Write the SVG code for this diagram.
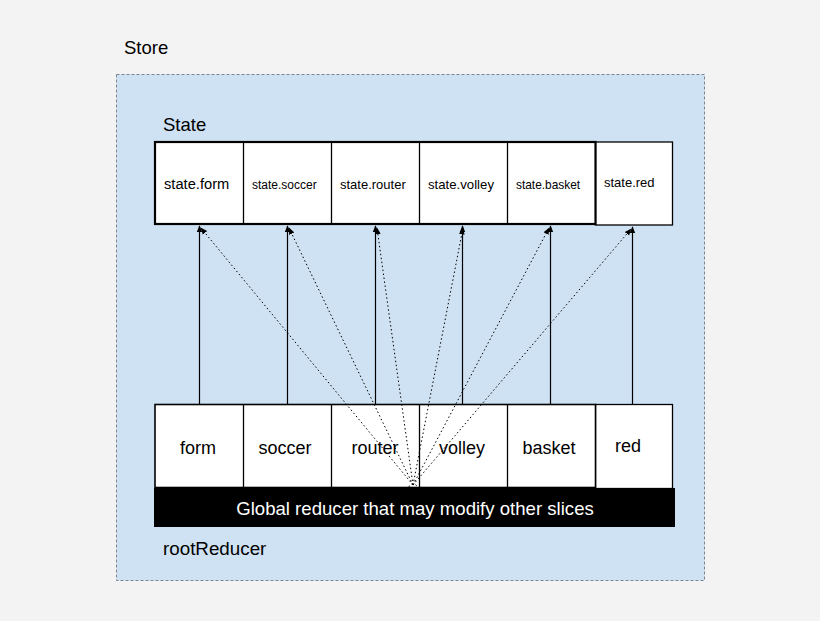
<svg xmlns="http://www.w3.org/2000/svg" width="820" height="621" viewBox="0 0 820 621">
<defs>
<style>
text{font-family:"Liberation Sans",Arial,sans-serif;fill:#000}
.cell{fill:#fff;stroke:#000;stroke-width:1.3}
.solid{stroke:#000;stroke-width:1.2;fill:none}
.dot{stroke:#000;stroke-width:1;stroke-dasharray:1.5 2.5;fill:none}
.lbl{font-size:18px;text-anchor:middle}
</style>
<marker id="ah" viewBox="0 0 10 10" refX="9" refY="5" markerWidth="7" markerHeight="7" orient="auto" markerUnits="userSpaceOnUse">
<path d="M0,1 L10,5 L0,9 z" fill="#000"/>
</marker>
</defs>
<rect x="0" y="0" width="820" height="621" fill="#f3f3f3"/>
<g id="store">
<rect x="116.5" y="74.5" width="588" height="506" fill="#cfe2f3" stroke="#7a8590" stroke-width="1" stroke-dasharray="3 2"/>
<text x="124" y="54" font-size="18.5">Store</text>
<text x="163" y="131" font-size="18.5">State</text>
<text x="163" y="555" font-size="18.8">rootReducer</text>
</g>
<g id="state">
<rect x="595.5" y="142" width="77" height="83" class="cell"/>
<rect x="155" y="142" width="440.5" height="82" fill="#fff" stroke="#000" stroke-width="2.2"/>
<line x1="243.5" y1="142" x2="243.5" y2="224" stroke="#000" stroke-width="1.3"/>
<line x1="331.5" y1="142" x2="331.5" y2="224" stroke="#000" stroke-width="1.3"/>
<line x1="419.5" y1="142" x2="419.5" y2="224" stroke="#000" stroke-width="1.3"/>
<line x1="507.5" y1="142" x2="507.5" y2="224" stroke="#000" stroke-width="1.3"/>
<text x="164" y="189" font-size="14.7">state.form</text>
<text x="252" y="189" font-size="12">state.soccer</text>
<text x="340" y="189" font-size="13">state.router</text>
<text x="428" y="189" font-size="13.2">state.volley</text>
<text x="516" y="189" font-size="11.9">state.basket</text>
<text x="604" y="187" font-size="13">state.red</text>
</g>
<g id="reducers">
<rect x="595.5" y="404.5" width="77" height="84" class="cell"/>
<rect x="155" y="404.5" width="440.5" height="83" fill="#fff" stroke="#000" stroke-width="1.6"/>
<line x1="243.5" y1="404.5" x2="243.5" y2="487" stroke="#000" stroke-width="1.3"/>
<line x1="331.5" y1="404.5" x2="331.5" y2="487" stroke="#000" stroke-width="1.3"/>
<line x1="419.5" y1="404.5" x2="419.5" y2="487" stroke="#000" stroke-width="1.3"/>
<line x1="507.5" y1="404.5" x2="507.5" y2="487" stroke="#000" stroke-width="1.3"/>
<text x="198" y="454" class="lbl">form</text>
<text x="285" y="454" class="lbl">soccer</text>
<text x="375" y="454" class="lbl">router</text>
<text x="462" y="454" class="lbl">volley</text>
<text x="549" y="454" class="lbl">basket</text>
<text x="628" y="452" class="lbl">red</text>
</g>
<g id="global">
<rect x="154" y="488" width="521" height="39" fill="#000"/>
<text x="415" y="515" font-size="18.6" text-anchor="middle" style="fill:#fff">Global reducer that may modify other slices</text>
</g>
<g id="connectors">
<line x1="199.5" y1="404" x2="199.5" y2="226" class="solid" marker-end="url(#ah)"/>
<line x1="287.5" y1="404" x2="287.5" y2="226" class="solid" marker-end="url(#ah)"/>
<line x1="375.5" y1="404" x2="375.5" y2="226" class="solid" marker-end="url(#ah)"/>
<line x1="462.5" y1="404" x2="462.5" y2="226" class="solid" marker-end="url(#ah)"/>
<line x1="550.5" y1="404" x2="550.5" y2="226" class="solid" marker-end="url(#ah)"/>
<line x1="632.5" y1="404" x2="632.5" y2="227" class="solid" marker-end="url(#ah)"/>
<line x1="413" y1="485" x2="201" y2="228" class="dot" marker-end="url(#ah)"/>
<line x1="413" y1="485" x2="289" y2="228" class="dot" marker-end="url(#ah)"/>
<line x1="413" y1="485" x2="377" y2="228" class="dot" marker-end="url(#ah)"/>
<line x1="413" y1="485" x2="463" y2="228" class="dot" marker-end="url(#ah)"/>
<line x1="413" y1="485" x2="549" y2="228" class="dot" marker-end="url(#ah)"/>
<line x1="413" y1="485" x2="631" y2="229" class="dot" marker-end="url(#ah)"/>
<path d="M409,487 A4,3 0 0 1 417,487" class="dot"/>
</g>
</svg>
